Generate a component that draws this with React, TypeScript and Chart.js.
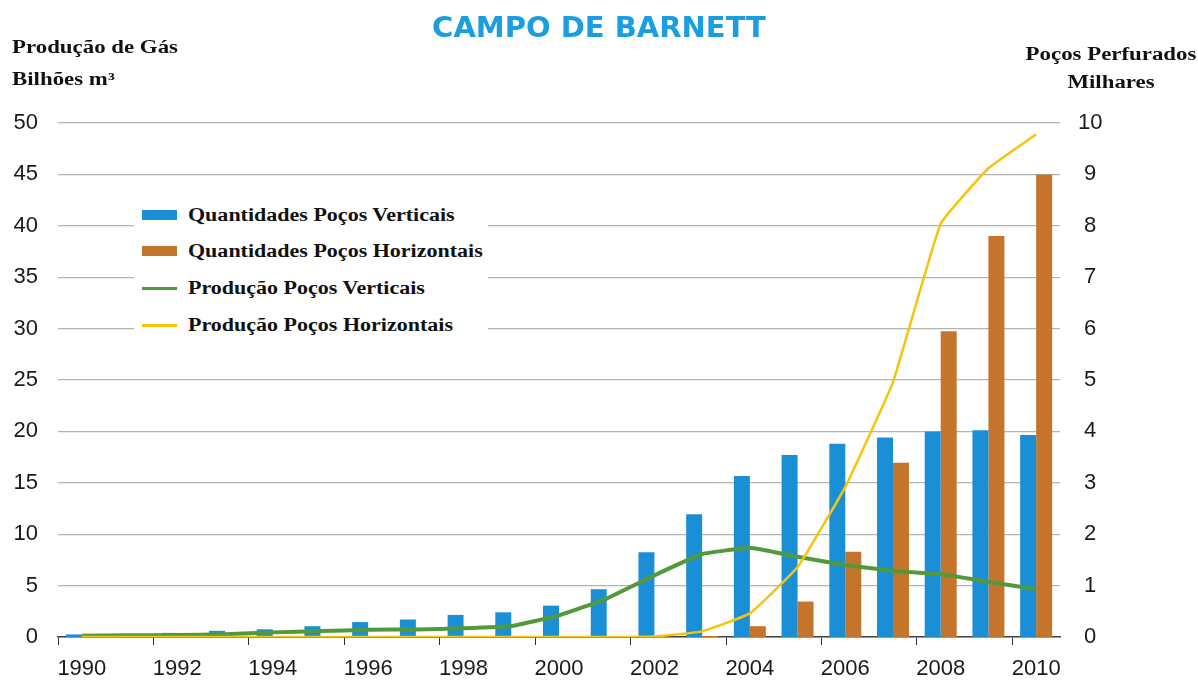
import React, { useEffect, useRef } from 'react';
import { Chart, registerables } from 'chart.js';

Chart.register(...registerables);

const years = ['1990','1991','1992','1993','1994','1995','1996','1997','1998','1999','2000','2001','2002','2003','2004','2005','2006','2007','2008','2009','2010'];

// Thousands of wells drilled (right axis)
const verticalWells = [0.05, 0.05, 0.08, 0.12, 0.15, 0.21, 0.29, 0.34, 0.43, 0.48, 0.61, 0.93, 1.65, 2.39, 3.13, 3.54, 3.76, 3.88, 4.0, 4.02, 3.93];
const horizontalWells = [0, 0, 0, 0, 0, 0, 0, 0, 0, 0, 0, 0, 0, 0.02, 0.21, 0.69, 1.66, 3.39, 5.95, 7.8, 9.0];

// Gas production, billion m³ (left axis)
const verticalProduction = [0.13, 0.16, 0.2, 0.26, 0.45, 0.58, 0.7, 0.74, 0.84, 1.06, 2.1, 3.74, 6.0, 8.07, 8.68, 7.8, 7.0, 6.44, 6.1, 5.37, 4.65];
const horizontalProduction = [0, 0, 0, 0, 0, 0, 0, 0, 0, 0, 0, 0, 0.05, 0.55, 2.3, 6.8, 14.6, 24.8, 40.2, 45.6, 48.9];

const seriesLabels = [
  'Quantidades Poços Verticais',
  'Quantidades Poços Horizontais',
  'Produção Poços Verticais',
  'Produção Poços Horizontais',
];
const seriesColors = ['#1b8fd6', '#c4742b', '#52993c', '#f6c40a'];
const seriesKinds = ['bar', 'bar', 'line', 'line'];

const title = 'CAMPO DE BARNETT';
const leftTitle = ['Produção de Gás', 'Bilhões m³'];
const rightTitle = ['Poços Perfurados', 'Milhares'];

const W = 1198;
const H = 682;

export default function App() {
  const ref = useRef<HTMLCanvasElement | null>(null);

  useEffect(() => {
    if (!ref.current) return;
    const chart = new Chart(ref.current, {
      type: 'bar',
      data: {
        labels: years,
        datasets: [
          {
            type: 'line',
            label: seriesLabels[3],
            data: horizontalProduction,
            yAxisID: 'y',
            borderColor: seriesColors[3],
            backgroundColor: seriesColors[3],
            borderWidth: 2.5,
            pointRadius: 0,
            tension: 0.1,
            order: 0,
          },
          {
            type: 'line',
            label: seriesLabels[2],
            data: verticalProduction,
            yAxisID: 'y',
            borderColor: seriesColors[2],
            backgroundColor: seriesColors[2],
            borderWidth: 4,
            pointRadius: 0,
            tension: 0.1,
            order: 1,
          },
          {
            type: 'bar',
            label: seriesLabels[0],
            data: verticalWells,
            yAxisID: 'y1',
            backgroundColor: seriesColors[0],
            categoryPercentage: 0.67,
            barPercentage: 1.0,
            order: 2,
          },
          {
            type: 'bar',
            label: seriesLabels[1],
            data: horizontalWells,
            yAxisID: 'y1',
            backgroundColor: seriesColors[1],
            categoryPercentage: 0.67,
            barPercentage: 1.0,
            order: 2,
          },
        ],
      },
      options: {
        responsive: false,
        animation: false,
        devicePixelRatio: 1,
        layout: { padding: { left: 0, right: 0, top: 123, bottom: 0 } },
        plugins: {
          legend: { display: false },
          title: { display: false },
          tooltip: { enabled: false },
        },
        scales: {
          x: {
            offset: true,
            afterFit: (s: any) => { s.height = 45; },
            grid: {
              offset: true,
              drawOnChartArea: false,
              drawTicks: true,
              tickLength: 8,
              tickColor: (ctx: any) => (ctx.index % 2 === 0 ? '#333333' : 'rgba(0,0,0,0)'),
              color: 'rgba(0,0,0,0)',
            },
            border: { display: true, color: '#444444', width: 1.5 },
            ticks: {
              autoSkip: false,
              maxRotation: 0,
              minRotation: 0,
              padding: 11,
              color: '#1a1a1a',
              font: { family: '"Liberation Sans", Arial, sans-serif', size: 22 },
              callback: (_v: any, i: number) => (i % 2 === 0 ? years[i] : ''),
            },
          },
          y: {
            position: 'left',
            min: 0,
            max: 50,
            afterFit: (s: any) => { s.width = 58; },
            grid: { color: '#b4b4b4', lineWidth: 1.2, drawTicks: false },
            border: { display: false },
            ticks: {
              stepSize: 5,
              padding: 20,
              color: '#1a1a1a',
              font: { family: '"Liberation Sans", Arial, sans-serif', size: 22 },
            },
          },
          y1: {
            position: 'right',
            min: 0,
            max: 10,
            afterFit: (s: any) => { s.width = W - 1060; },
            grid: { display: false, drawTicks: false },
            border: { display: false },
            ticks: {
              stepSize: 1,
              padding: 18,
              crossAlign: 'center',
              color: '#1a1a1a',
              font: { family: '"Liberation Sans", Arial, sans-serif', size: 22 },
            },
          },
        },
      },
    } as any);
    return () => chart.destroy();
  }, []);

  const serif = '"Liberation Serif", "Times New Roman", serif';
  const legendRows = [215, 251, 288, 325];
  const axTitle: React.CSSProperties = {
    position: 'absolute', fontFamily: serif, fontWeight: 'bold', fontSize: 18, lineHeight: '19px',
    color: '#111', whiteSpace: 'nowrap', transform: 'scaleX(1.27)',
  };

  return (
    <div style={{ position: 'absolute', left: 0, top: 0, width: W, height: H, background: '#ffffff', overflow: 'hidden' }}>
      <canvas ref={ref} width={W} height={H} style={{ position: 'absolute', left: 0, top: 0, width: W, height: H }} />
      <div style={{ position: 'absolute', left: 0, top: 11, width: W, textAlign: 'center', fontFamily: '"DejaVu Sans", Verdana, sans-serif', fontWeight: 'bold', fontSize: 29, lineHeight: '32px', color: '#1a9ee0' }}>
        {title}
      </div>
      <div style={{ ...axTitle, left: 12, top: 38, transformOrigin: 'left center' }}>{leftTitle[0]}</div>
      <div style={{ ...axTitle, left: 12, top: 70, transformOrigin: 'left center' }}>{leftTitle[1]}</div>
      <div style={{ ...axTitle, left: 1011, width: 200, top: 45, textAlign: 'center', transformOrigin: '100px center' }}>{rightTitle[0]}</div>
      <div style={{ ...axTitle, left: 1011, width: 200, top: 73, textAlign: 'center', transformOrigin: '100px center' }}>{rightTitle[1]}</div>
      <div style={{ position: 'absolute', left: 134, top: 196, width: 354, height: 146, background: '#ffffff' }}>
        {seriesLabels.map((lab, i) => (
          <div key={lab} style={{ position: 'absolute', left: 0, top: legendRows[i] - 196 - 11, height: 22, width: 354, display: 'flex', alignItems: 'center' }}>
            <div style={{ width: 35, marginLeft: 8, height: seriesKinds[i] === 'bar' ? 10 : 3, background: seriesColors[i] }} />
            <div style={{ marginLeft: 11, fontFamily: serif, fontWeight: 'bold', fontSize: 18.5, color: '#111', whiteSpace: 'nowrap', lineHeight: '22px', transform: 'scaleX(1.19)', transformOrigin: 'left center' }}>{lab}</div>
          </div>
        ))}
      </div>
    </div>
  );
}
